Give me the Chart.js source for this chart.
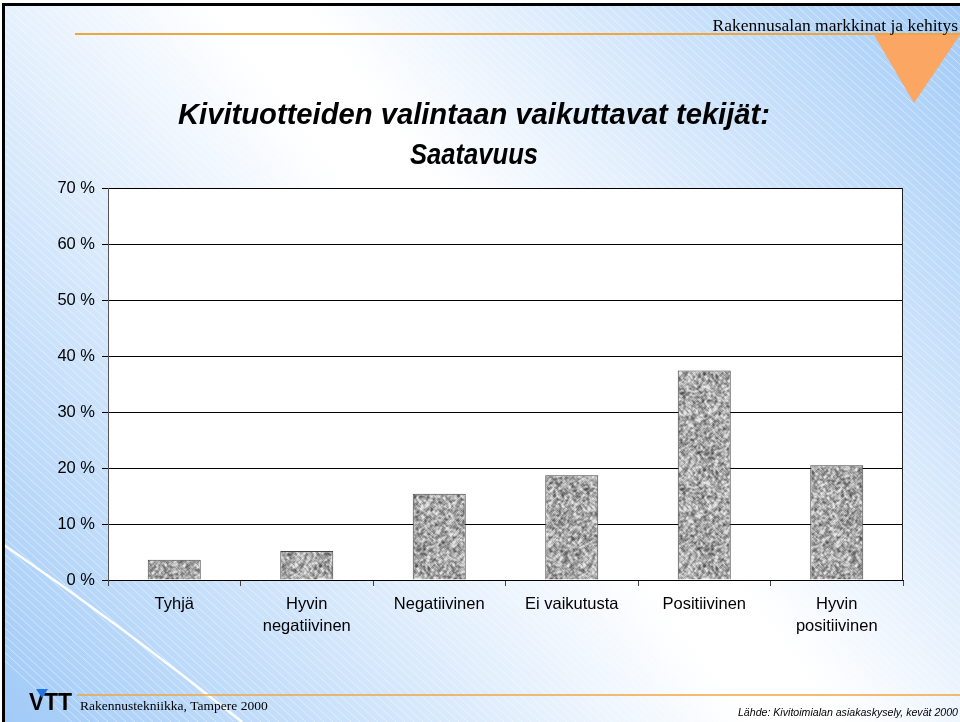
<!DOCTYPE html>
<html>
<head>
<meta charset="utf-8">
<script src="https://cdn.jsdelivr.net/npm/chart.js@4.4.0/dist/chart.umd.min.js"></script>
<style>
html,body{margin:0;padding:0;background:#fff;}
#c{display:block;}
</style>
</head>
<body>
<canvas id="c" width="960" height="722"></canvas>
<script>
const categories = [["Tyhjä"], ["Hyvin", "negatiivinen"], ["Negatiivinen"], ["Ei vaikutusta"], ["Positiivinen"], ["Hyvin", "positiivinen"]];
const values = [3.6, 5.2, 15.4, 18.7, 37.4, 20.5];
const yTicks = [0, 10, 20, 30, 40, 50, 60, 70];
const titleLines = ["Kivituotteiden valintaan vaikuttavat tekijät:", "Saatavuus"];
const headerText = "Rakennusalan markkinat ja kehitys";
const footerLeft = "Rakennustekniikka, Tampere 2000";
const footerRight = "Lähde: Kivitoimialan asiakaskysely, kevät 2000";

const SANS = "'Liberation Sans', Arial, sans-serif";
const SERIF = "'Liberation Serif', 'Times New Roman', serif";

// deterministic noise texture for bar fill (styling only)
function makeNoise() {
  const s = 96, cv = document.createElement('canvas');
  cv.width = s; cv.height = s;
  const g = cv.getContext('2d');
  const img = g.createImageData(s, s);
  let seed = 12345;
  function rnd() { seed = (seed * 1103515245 + 12345) & 0x7fffffff; return seed / 0x7fffffff; }
  const base = [];
  for (let i = 0; i < s * s; i++) base.push(rnd());
  for (let y = 0; y < s; y++) for (let x = 0; x < s; x++) {
    let v = 0, n = 0;
    for (let dy = -1; dy <= 1; dy++) for (let dx = -1; dx <= 1; dx++) {
      v += base[((y + dy + s) % s) * s + ((x + dx + s) % s)]; n++;
    }
    v = v / n;
    const c = Math.max(80, Math.min(230, 168 + (v - 0.5) * 230 + (base[y * s + x] - 0.5) * 50));
    const k = (y * s + x) * 4;
    img.data[k] = c; img.data[k + 1] = c; img.data[k + 2] = c; img.data[k + 3] = 255;
  }
  g.putImageData(img, 0, 0);
  return g.createPattern(cv, 'repeat');
}

function fitText(ctx, text, x, y, targetW) {
  const w = ctx.measureText(text).width;
  const sx = targetW ? targetW / w : 1;
  ctx.save();
  ctx.translate(x, y);
  ctx.scale(sx, 1);
  ctx.fillText(text, 0, 0);
  ctx.restore();
}

const slidePlugin = {
  id: 'slide',
  beforeDraw(chart) {
    const ctx = chart.ctx, W = chart.width, H = chart.height;
    ctx.save();
    const gr = ctx.createLinearGradient(0, H, W, 0);
    gr.addColorStop(0, '#a0caf7');
    gr.addColorStop(0.5, '#ffffff');
    gr.addColorStop(0.56, '#ffffff');
    gr.addColorStop(1, '#a0caf7');
    ctx.fillStyle = gr;
    ctx.fillRect(0, 0, W, H);
    // hatch
    ctx.strokeStyle = 'rgba(255,255,255,0.45)';
    ctx.lineWidth = 1;
    ctx.beginPath();
    for (let x0 = -H; x0 < W; x0 += 9) {
      ctx.moveTo(x0, 0); ctx.lineTo(x0 + H * 1.1, H);
    }
    ctx.stroke();
    // white curve bottom-left
    ctx.strokeStyle = '#ffffff';
    ctx.lineWidth = 2.5;
    ctx.beginPath();
    ctx.moveTo(4, 545);
    ctx.quadraticCurveTo(125, 628, 242, 722);
    ctx.stroke();
    // frame
    ctx.fillStyle = '#fff';
    ctx.fillRect(0, 0, W, 3);
    ctx.fillRect(0, 0, 2, H);
    ctx.strokeStyle = '#000';
    ctx.lineWidth = 3;
    ctx.beginPath();
    ctx.moveTo(3.5, H); ctx.lineTo(3.5, 4.5); ctx.lineTo(W, 4.5);
    ctx.stroke();
    // header
    ctx.strokeStyle = '#f0a640';
    ctx.lineWidth = 2;
    ctx.beginPath(); ctx.moveTo(75, 34); ctx.lineTo(W, 34); ctx.stroke();
    ctx.fillStyle = '#fca664';
    ctx.beginPath(); ctx.moveTo(874, 35); ctx.lineTo(960, 35); ctx.lineTo(914, 103); ctx.closePath(); ctx.fill();
    ctx.fillStyle = '#000';
    ctx.font = '17.5px ' + SERIF;
    ctx.textAlign = 'right'; ctx.textBaseline = 'alphabetic';
    ctx.fillText(headerText, 958, 31);
    // title
    ctx.font = 'italic bold 29px ' + SANS;
    ctx.textAlign = 'left';
    fitText(ctx, titleLines[0], 178, 124, 592);
    fitText(ctx, titleLines[1], 410, 164, 128);
    // footer
    ctx.strokeStyle = '#f0a640';
    ctx.lineWidth = 1.5;
    ctx.beginPath(); ctx.moveTo(77, 695); ctx.lineTo(W, 695); ctx.stroke();
    ctx.fillStyle = '#000';
    ctx.font = 'bold 23px ' + SANS;
    ctx.textAlign = 'left';
    ctx.save();
    ctx.translate(29, 710);
    ctx.scale(1.0, 1);
    ctx.fillText('V', 0, 0);
    ctx.fillText('TT', 15, 0);
    ctx.restore();
    ctx.fillStyle = '#1f74e6';
    ctx.beginPath(); ctx.moveTo(36, 689); ctx.lineTo(48, 689); ctx.lineTo(42, 698); ctx.closePath(); ctx.fill();
    ctx.fillStyle = '#000';
    ctx.font = '13.5px ' + SERIF;
    ctx.fillText(footerLeft, 80, 710);
    ctx.font = 'italic 10.6px ' + SANS;
    ctx.textAlign = 'right';
    ctx.fillText(footerRight, 958, 716);
    // plot area
    const a = chart.chartArea;
    ctx.fillStyle = '#ffffff';
    ctx.fillRect(a.left, a.top, a.right - a.left, a.bottom - a.top);
    ctx.restore();
  },
  afterDraw(chart) {
    const ctx = chart.ctx, a = chart.chartArea;
    ctx.save();
    ctx.strokeStyle = '#222';
    ctx.lineWidth = 1;
    ctx.beginPath();
    ctx.moveTo(Math.round(a.right) - 0.5, a.top);
    ctx.lineTo(Math.round(a.right) - 0.5, a.bottom);
    ctx.stroke();
    ctx.restore();
  }
};

const chart = new Chart(document.getElementById('c'), {
  type: 'bar',
  data: {
    labels: categories,
    datasets: [{
      data: values,
      backgroundColor: makeNoise(),
      borderColor: '#444',
      borderWidth: 1,
      borderSkipped: 'bottom',
      categoryPercentage: 0.8,
      barPercentage: 0.5
    }]
  },
  options: {
    responsive: false,
    animation: false,
    events: [],
    layout: { padding: { left: 0, top: 188, right: 57, bottom: 82 } },
    plugins: { legend: { display: false }, title: { display: false }, tooltip: { enabled: false } },
    scales: {
      x: {
        afterFit(s) { s.height = 60; },
        grid: { display: true, drawOnChartArea: false, drawTicks: true, tickLength: 6, color: '#444', offset: true },
        border: { display: true, color: '#000', width: 1 },
        ticks: { color: '#000', font: { family: SANS, size: 16.5, lineHeight: 1.3 }, padding: 8, maxRotation: 0, autoSkip: false }
      },
      y: {
        min: 0, max: 70,
        afterFit(s) { s.width = 108; },
        afterBuildTicks(s) { s.ticks = yTicks.map(v => ({ value: v })); },
        grid: { color: '#000', lineWidth: 1, tickLength: 6, drawTicks: true },
        border: { display: true, color: '#555', width: 1 },
        ticks: { color: '#000', font: { family: SANS, size: 16.5 }, padding: 7, callback: v => v + ' %' }
      }
    }
  },
  plugins: [slidePlugin]
});
</script>
</body>
</html>
